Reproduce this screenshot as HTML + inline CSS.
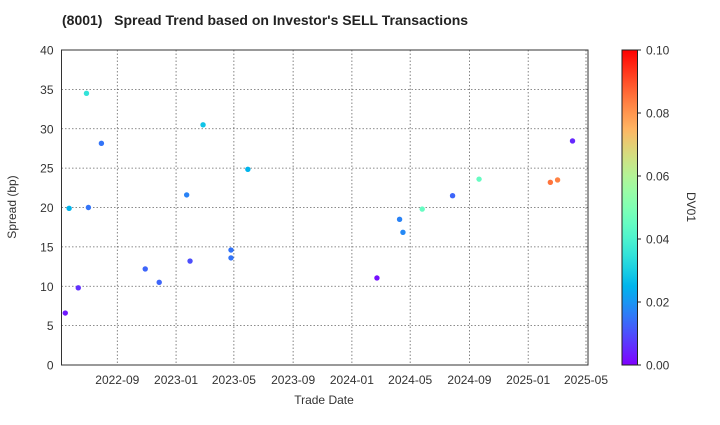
<!DOCTYPE html>
<html><head><meta charset="utf-8"><style>
body{margin:0;background:#fff;font-family:"Liberation Sans",Arial,sans-serif;}
svg text{font-family:"Liberation Sans",Arial,sans-serif;fill:#333;}
</style></head><body>
<svg id="chart" width="720" height="420" xmlns="http://www.w3.org/2000/svg">
<defs><linearGradient id="rb" x1="0" y1="1" x2="0" y2="0"></linearGradient></defs>
<text x="62" y="25" font-size="14" font-weight="bold" style="fill:#222">(8001)&#160;&#160;&#160;Spread Trend based on Investor's SELL Transactions</text>
<g id="grid"></g>
<g id="yticks"></g>
<g id="xticks"></g>
<g id="points"></g>
<rect x="61.5" y="50" width="526.5" height="315" fill="none" stroke="#333" stroke-width="1"/>
<text transform="translate(16,207) rotate(-90)" text-anchor="middle" font-size="12">Spread (bp)</text>
<text x="324" y="404" text-anchor="middle" font-size="12">Trade Date</text>
<rect x="622" y="50" width="15.5" height="315" fill="url(#rb)" stroke="#222" stroke-width="1"/>
<g id="cticks"></g>
<text transform="translate(687,207) rotate(90)" text-anchor="middle" font-size="12">DV01</text>
</svg>
<script>
const dates=["2022-05-16","2022-05-24","2022-06-12","2022-06-29","2022-07-03","2022-07-30","2022-10-29","2022-11-27","2023-01-23","2023-01-30","2023-02-26","2023-04-25","2023-04-25","2023-05-30","2024-02-22","2024-04-09","2024-04-16","2024-05-26","2024-07-28","2024-09-21","2025-02-16","2025-03-03","2025-04-03"];
const spreads=[6.6,19.9,9.8,34.5,20.0,28.15,12.2,10.5,21.6,13.2,30.5,14.6,13.6,24.85,11.05,18.5,16.85,19.8,21.5,23.6,23.2,23.5,28.45];
const dv01=[0.003,0.025,0.006,0.035,0.015,0.015,0.013,0.013,0.017,0.01,0.028,0.015,0.015,0.025,0.002,0.017,0.018,0.045,0.013,0.045,0.085,0.083,0.005];
const yTicks=[0,5,10,15,20,25,30,35,40];
const xTickLabels=["2022-09","2023-01","2023-05","2023-09","2024-01","2024-05","2024-09","2025-01","2025-05"];
const cTicks=[0,0.02,0.04,0.06,0.08,0.10];
const NS="http://www.w3.org/2000/svg";
const L=61.5,R=588,T=50,B=365;
const d0=Date.UTC(2022,8,1),d1=Date.UTC(2025,4,1),x0=117.3,x1=586;
function day(s){const p=s.split('-').map(Number);return Date.UTC(p[0],p[1]-1,p[2]||1);}
function xs(s){return x0+(day(s)-d0)/(d1-d0)*(x1-x0);}
function ys(v){return B-v/40*(B-T);}
function cs(v){return B-v/0.1*(B-T);}
function rainbow(t){t=Math.max(0,Math.min(1,t));
 const c=v=>Math.round(255*Math.max(0,Math.min(1,v)));
 return `rgb(${c(Math.abs(2*t-0.5))},${c(Math.sin(Math.PI*t))},${c(Math.cos(Math.PI*t/2))})`;}
function mk(tag,attrs,parent){const e=document.createElementNS(NS,tag);for(const k in attrs)e.setAttribute(k,attrs[k]);parent.appendChild(e);return e;}
const grid=document.getElementById('grid'),yt=document.getElementById('yticks'),xt=document.getElementById('xticks'),pts=document.getElementById('points'),ct=document.getElementById('cticks');
yTicks.forEach(v=>{const y=ys(v);
 const g=mk('line',{x1:L,x2:R,y1:y,y2:y,stroke:'#666','stroke-dasharray':'1.5,2','stroke-width':0.8},grid);
 
 
 const t=mk('text',{x:L-8,y:y+4.5,'text-anchor':'end','font-size':12},yt);t.textContent=v;
 
 
});
xTickLabels.forEach(s=>{const x=xs(s);
 const g=mk('line',{x1:x,x2:x,y1:T,y2:B,stroke:'#666','stroke-dasharray':'1.5,2','stroke-width':0.8},grid);
 
 
 const t=mk('text',{x:x,y:B+19,'text-anchor':'middle','font-size':12},xt);t.textContent=s;
 
 
});
dates.forEach((d,i)=>{
 const c=mk('circle',{cx:xs(d),cy:ys(spreads[i]),r:2.7,fill:rainbow(dv01[i]/0.1)},pts);
 
 
});
const grad=document.getElementById('rb');
for(let i=0;i<=20;i++){mk('stop',{offset:(i/20*100)+'%','stop-color':rainbow(i/20)},grad);}
cTicks.forEach(v=>{const y=cs(v);
 mk('line',{x1:637.5,x2:641,y1:y,y2:y,stroke:'#222'},ct);
 const t=mk('text',{x:646,y:y+4.5,'font-size':12},ct);t.textContent=v.toFixed(2);
 
 
});
</script>
</body></html>
